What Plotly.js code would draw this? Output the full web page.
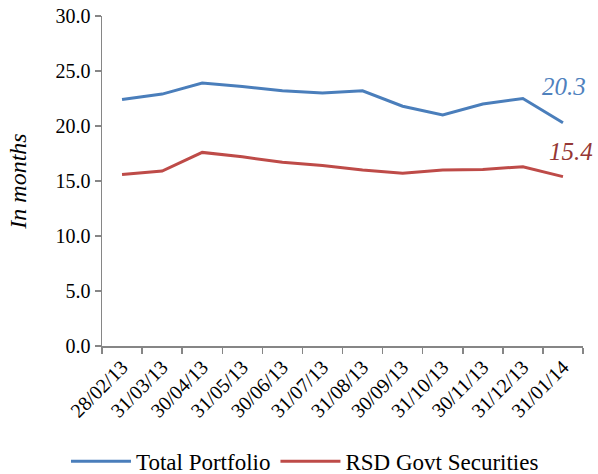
<!DOCTYPE html>
<html>
<head>
<meta charset="utf-8">
<script src="https://cdn.plot.ly/plotly-3.0.1.min.js"></script>
<style>html,body{margin:0;padding:0;background:#fff;}#chart{width:598px;height:474px;}</style>
</head>
<body>
<div id="chart"></div>
<script>
const dates = ["28/02/13","31/03/13","30/04/13","31/05/13","30/06/13","31/07/13","31/08/13","30/09/13","31/10/13","30/11/13","31/12/13","31/01/14"];
const totalPortfolio = [22.4, 22.9, 23.9, 23.6, 23.2, 23.0, 23.2, 21.8, 21.0, 22.0, 22.5, 20.3];
const rsdGovt = [15.6, 15.9, 17.6, 17.2, 16.7, 16.4, 16.0, 15.7, 16.0, 16.05, 16.3, 15.4];
const yTicks = [0, 5, 10, 15, 20, 25, 30];

const blue = "#4A7EBB", red = "#BE4B48";
const serif = "Liberation Serif";

const traces = [
  {x: dates, y: totalPortfolio, type: "scatter", mode: "lines", name: "Total Portfolio",
   line: {color: blue, width: 3}},
  {x: dates, y: rsdGovt, type: "scatter", mode: "lines", name: "RSD Govt Securities",
   line: {color: red, width: 3}}
];

const last = dates.length - 1;
const layout = {
  width: 598, height: 474,
  margin: {l: 102, r: 15, t: 16, b: 128},
  paper_bgcolor: "#fff", plot_bgcolor: "#fff",
  font: {family: serif, color: "#000", size: 20},
  showlegend: true,
  legend: {orientation: "h", x: 0.51, xanchor: "center", xref: "container", yref: "container", y: 0.027, yanchor: "middle",
           font: {family: serif, size: 23, color: "#000"}, itemwidth: 60, traceorder: "normal"},
  xaxis: {type: "category", range: [-0.5, 11.5], tickson: "boundaries", ticks: "outside", ticklen: 6,
          tickcolor: "#868686", tickwidth: 1.5, showline: true, linecolor: "#868686", linewidth: 1.5,
          showgrid: false, zeroline: false, tickangle: -45, fixedrange: true, automargin: false,
          tickfont: {family: serif, size: 20, color: "#000"}},
  yaxis: {range: [0, 30], tickvals: yTicks, ticktext: yTicks.map(v => v.toFixed(1)),
          ticks: "outside", ticklen: 6, tickcolor: "#868686", tickwidth: 1.5, automargin: false,
          showline: true, linecolor: "#868686", linewidth: 1.5, showgrid: false, zeroline: false,
          tickfont: {family: serif, size: 20, color: "#000"},
          title: {text: "<i>In months</i>", font: {family: serif, size: 24, color: "#000"}, standoff: 22}},
  annotations: [
    {x: dates[last], y: totalPortfolio[last], xref: "x", yref: "y", text: "<i>" + totalPortfolio[last].toFixed(1) + "</i>",
     showarrow: false, xshift: 1, yshift: 36, font: {family: serif, size: 25, color: "#4F81BD"}},
    {x: dates[last], y: rsdGovt[last], xref: "x", yref: "y", text: "<i>" + rsdGovt[last].toFixed(1) + "</i>",
     showarrow: false, xshift: 8, yshift: 25, font: {family: serif, size: 25, color: "#953735"}}
  ]
};

Plotly.newPlot("chart", traces, layout, {displayModeBar: false, staticPlot: true});
</script>
</body>
</html>
